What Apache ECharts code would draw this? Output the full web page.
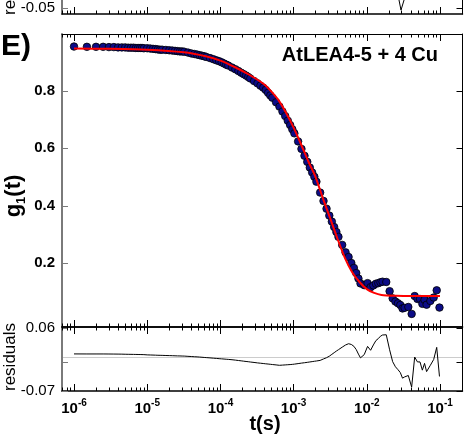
<!DOCTYPE html>
<html><head><meta charset="utf-8">
<script src="https://cdn.jsdelivr.net/npm/echarts@6/dist/echarts.min.js"></script>
<style>html,body{margin:0;padding:0;background:#fff}#c{width:476px;height:438px}</style>
</head><body><div id="c"></div>
<script>
// ---- data (lag times in microseconds) ----
const lagTimesUs = [1,1.5,2,2.5,3,3.5,4,4.5,5,5.5,6,6.5,7,7.5,8,8.5,
  9,10,11,12,13,14,15,16,
  18,20,22,24,26,28,30,32,
  36,40,44,48,52,56,60,64,
  72,80,88,96,104,112,120,128,
  144,160,176,192,208,224,240,256,
  288,320,352,384,416,448,480,512,
  576,640,704,768,832,896,960,1024,
  1152,1280,1408,1536,1664,1792,1920,2048,
  2304,2560,2816,3072,3328,3584,3840,4096,
  4608,5120,5632,6144,6656,7168,7680,8192,
  9216,10240,11264,12288,13312,14336,15360,16384,
  18432,20480,22528,24576,26624,28672,30720,32768,
  36864,40960,45056,49152,53248,57344,61440,65536,
  73728,81920,90112,98304];
const g1Values = [0.954,0.953,0.953,0.953,0.952,0.952,0.951,0.951,0.951,0.950,0.950,0.950,0.949,0.949,0.949,0.949,
  0.948,0.948,0.947,0.946,0.945,0.944,0.943,0.943,
  0.942,0.941,0.940,0.939,0.938,0.937,0.937,0.936,
  0.933,0.930,0.928,0.926,0.924,0.922,0.920,0.918,
  0.914,0.910,0.906,0.903,0.899,0.895,0.891,0.888,
  0.881,0.875,0.869,0.863,0.858,0.853,0.848,0.843,
  0.834,0.826,0.818,0.811,0.803,0.793,0.784,0.776,
  0.760,0.745,0.728,0.712,0.696,0.681,0.666,0.652,
  0.624,0.598,0.574,0.553,0.533,0.516,0.501,0.484,
  0.446,0.417,0.390,0.366,0.345,0.326,0.309,0.292,
  0.264,0.238,0.222,0.201,0.184,0.166,0.147,0.130,
  0.124,0.131,0.117,0.123,0.129,0.131,0.134,0.136,
  0.135,0.103,0.078,0.067,0.061,0.055,0.043,0.045,
  0.048,0.024,0.086,0.076,0.076,0.059,0.073,0.056,
  0.069,0.081,0.106,0.046];
const residualValues = [0.0065,0.0064,0.0064,0.0064,0.0063,0.0062,0.0061,0.006,0.0058,0.0057,0.0056,0.0055,0.0054,0.0053,0.0052,0.0051,
  0.005,0.0045,0.0043,0.0041,0.0039,0.0037,0.0036,0.0035,
  0.0032,0.003,0.0028,0.0026,0.0024,0.0023,0.0021,0.002,
  0.0015,0.0011,0.0007,0.0004,0.0,-0.0004,-0.0008,-0.0011,
  -0.0017,-0.0023,-0.0028,-0.0033,-0.0037,-0.0041,-0.0045,-0.0048,
  -0.0055,-0.0063,-0.0071,-0.0078,-0.0085,-0.0091,-0.0096,-0.0102,
  -0.0111,-0.012,-0.0127,-0.0133,-0.0139,-0.0144,-0.0149,-0.0154,
  -0.0162,-0.017,-0.0166,-0.0162,-0.0158,-0.0155,-0.0151,-0.0146,
  -0.0135,-0.0125,-0.0117,-0.0109,-0.0101,-0.0094,-0.0087,-0.0081,
  -0.0069,-0.0039,-0.0013,0.0018,0.0056,0.0091,0.0124,0.0152,
  0.0204,0.0249,0.0275,0.026,0.0222,0.0154,0.0061,-0.0016,
  0.005,0.022,0.014,0.025,0.034,0.038,0.043,0.0455,
  0.046,0.015,-0.0095,-0.020,-0.026,-0.032,-0.0435,-0.041,
  -0.038,-0.062,0.0,-0.01,-0.01,-0.027,-0.013,-0.03,
  -0.017,-0.005,0.02,-0.04];
const fitTimesS = [1e-6,3.162e-6,1e-5,3.162e-5,6.31e-5,1e-4,1.585e-4,2.512e-4,3.981e-4,5.012e-4,6.31e-4,7.943e-4,1e-3,1.259e-3,1.585e-3,1.995e-3,2.512e-3,3.162e-3,3.981e-3,5.012e-3,6.31e-3,7.943e-3,1e-2,1.259e-2,1.585e-2,2.512e-2,3.981e-2,1e-1];
const fitValues = [0.947,0.946,0.943,0.934,0.920,0.905,0.882,0.855,0.822,0.796,0.765,0.722,0.672,0.615,0.555,0.500,0.426,0.356,0.285,0.219,0.169,0.135,0.110,0.097,0.090,0.087,0.086,0.086];
// partial residual trace of the panel above (cut by the top edge)
const prevPanelTimesS = [0.0259,0.0293,0.0354];
const prevPanelResiduals = [-0.013,-0.054,-0.013];
// tick labels
const decadeExponents = [-6,-5,-4,-3,-2,-1];
const g1TickValues = [0.2,0.4,0.6,0.8];
const residualTickValues = [-0.07,-0.01,0.06];
const residualLabelValues = [-0.07,0.06];
const prevPanelTickValues = [-0.05];

// ---- chart ----
const FONT = '"Liberation Sans", Arial, Helvetica, sans-serif';
const X_MIN = -6.164, X_MAX = -0.693;
const minorX = [];
for (let n = -7; n <= -1; n++) for (let k = 2; k <= 9; k++) {
  const v = n + Math.log10(k);
  if (v > X_MIN && v < X_MAX) minorX.push(v);
}
const PL = 62, PW = 400.5;
const mkGrid = (top, height) => ({left:PL, width:PW, top:top, height:height, containLabel:false, outerBoundsMode:'none'});
const grids = [
  mkGrid(34, 293), mkGrid(34, 293),
  mkGrid(327, 64), mkGrid(327, 64),
  mkGrid(-50, 64), mkGrid(-50, 64)
];
function xAx(grid, pos, ticks, len, lineShow, lw, label) {
  return {type:'value', gridIndex:grid, position:pos, min:X_MIN, max:X_MAX,
    axisLine:{show:lineShow, onZero:false, lineStyle:{color:'#000', width:lw}},
    axisTick:{show:true, inside:true, length:len, customValues:ticks, lineStyle:{color:'#000', width:1}},
    axisLabel: label || {show:false}, splitLine:{show:false}};
}
const xLabel = {show:true, customValues:decadeExponents, margin:7,
  formatter: v => '{b|10}{s|' + Math.round(v) + '}',
  rich:{b:{fontSize:15, fontWeight:'bold', fontFamily:FONT, color:'#000', lineHeight:18, verticalAlign:'bottom'},
        s:{fontSize:10, fontWeight:'bold', fontFamily:FONT, color:'#000', lineHeight:10, verticalAlign:'top'}}};
const xAxes = [
  xAx(0,'bottom',decadeExponents,7,true,1.5),
  xAx(0,'top',decadeExponents,7,true,1),
  xAx(1,'bottom',minorX,3.5,false,1),
  xAx(1,'top',minorX,3.5,false,1),
  xAx(2,'bottom',decadeExponents,7,true,1.5,xLabel),
  xAx(2,'top',decadeExponents,7,true,1.5),
  xAx(3,'bottom',minorX,3.5,false,1),
  xAx(3,'top',minorX,3.5,false,1),
  xAx(4,'bottom',decadeExponents,7,true,1.5),
  xAx(5,'bottom',minorX,3.5,false,1)
];
function yAx(grid, pos, min, max, ticks, color, lw, label) {
  return {type:'value', gridIndex:grid, position:pos, min:min, max:max,
    axisLine:{show:true, onZero:false, lineStyle:{color:color, width:lw}},
    axisTick:{show:true, inside:true, length:6, customValues:ticks, lineStyle:{color:color, width:1}},
    axisLabel: label || {show:false}, splitLine:{show:false}};
}
const hiddenY = g => ({type:'value', gridIndex:g, show:false, min:0, max:1});
const yAxes = [
  yAx(0,'left',-0.0216,0.9976,g1TickValues,'#7a7a7a',2,
    {show:true, customValues:g1TickValues, margin:7, formatter:v=>v.toFixed(1), fontFamily:FONT, fontSize:15, fontWeight:'bold', color:'#000'}),
  yAx(0,'right',-0.0216,0.9976,g1TickValues,'#000',1),
  hiddenY(1),
  yAx(2,'left',-0.07,0.062,residualTickValues,'#7a7a7a',2,
    {show:true, customValues:residualLabelValues, margin:7, formatter:v=>v.toFixed(2), fontFamily:FONT, fontSize:15, color:'#000'}),
  yAx(2,'right',-0.07,0.062,residualTickValues,'#000',1),
  hiddenY(3),
  yAx(4,'left',-0.062,0.07,prevPanelTickValues,'#7a7a7a',2,
    {show:true, customValues:prevPanelTickValues, margin:7, formatter:v=>v.toFixed(2), fontFamily:FONT, fontSize:15, color:'#000'}),
  yAx(4,'right',-0.062,0.07,prevPanelTickValues,'#000',1),
  hiddenY(5)
];
const g1Data = lagTimesUs.map((t,i) => [Math.log10(t*1e-6), g1Values[i]]);
const resData = lagTimesUs.map((t,i) => [Math.log10(t*1e-6), residualValues[i]]);
const fitData = fitTimesS.map((t,i) => [Math.log10(t), fitValues[i]]);
const prevData = prevPanelTimesS.map((t,i) => [Math.log10(t), prevPanelResiduals[i]]);

const option = {
  animation:false,
  backgroundColor:'#fff',
  grid:grids, xAxis:xAxes, yAxis:yAxes,
  series:[
    {type:'scatter', xAxisIndex:0, yAxisIndex:0, data:g1Data, symbol:'circle', symbolSize:7.5, z:2,
     itemStyle:{color:'#0c0c86', opacity:1, borderColor:'#000', borderWidth:0.8}},
    {type:'line', xAxisIndex:0, yAxisIndex:0, data:fitData, showSymbol:false, smooth:0.25, z:3,
     lineStyle:{color:'#ff0000', width:2}},
    {type:'line', xAxisIndex:4, yAxisIndex:3, data:resData, showSymbol:false, z:3,
     lineStyle:{color:'#000', width:1},
     markLine:{silent:true, z:0, zlevel:0, symbol:['none','none'], label:{show:false}, animation:false,
       lineStyle:{color:'#cccccc', type:'solid', width:1}, data:[{yAxis:0}]}},
    {type:'line', xAxisIndex:8, yAxisIndex:6, data:prevData, showSymbol:false,
     lineStyle:{color:'#000', width:1}}
  ],
  graphic:[
    {type:'text', x:1, y:47, style:{text:'E)', fontSize:30, fontWeight:'bold', fontFamily:FONT, fill:'#000', align:'left', verticalAlign:'middle', textAlign:'left', textVerticalAlign:'middle'}},
    {type:'text', x:438, y:55, style:{text:'AtLEA4-5 + 4 Cu', fontSize:20, fontWeight:'bold', fontFamily:FONT, fill:'#000', align:'right', verticalAlign:'middle', textAlign:'right', textVerticalAlign:'middle'}},
    {type:'text', x:15, y:196, rotation:Math.PI/2, style:{text:'{m|g}{sub|1}{m|(t)}', align:'center', verticalAlign:'middle', textAlign:'center', textVerticalAlign:'middle',
      rich:{m:{fontSize:22, fontWeight:'bold', fontFamily:FONT, fill:'#000', color:'#000', lineHeight:25, verticalAlign:'top'},
            sub:{fontSize:13, fontWeight:'bold', fontFamily:FONT, fill:'#000', color:'#000', lineHeight:13, verticalAlign:'bottom'}}}},
    {type:'text', x:265, y:424, style:{text:'t(s)', fontSize:20, fontWeight:'bold', fontFamily:FONT, fill:'#000', align:'center', verticalAlign:'middle', textAlign:'center', textVerticalAlign:'middle'}},
    {type:'text', x:10.5, y:357, rotation:Math.PI/2, style:{text:'residuals', fontSize:17, fontFamily:FONT, fill:'#000', align:'center', verticalAlign:'middle', textAlign:'center', textVerticalAlign:'middle'}},
    {type:'text', x:10.5, y:-19, rotation:Math.PI/2, style:{text:'residuals', fontSize:17, fontFamily:FONT, fill:'#000', align:'center', verticalAlign:'middle', textAlign:'center', textVerticalAlign:'middle'}}
  ]
};
const chart = echarts.init(document.getElementById('c'), null, {renderer:'canvas', width:476, height:438});
chart.setOption(option);
</script>
</body></html>
